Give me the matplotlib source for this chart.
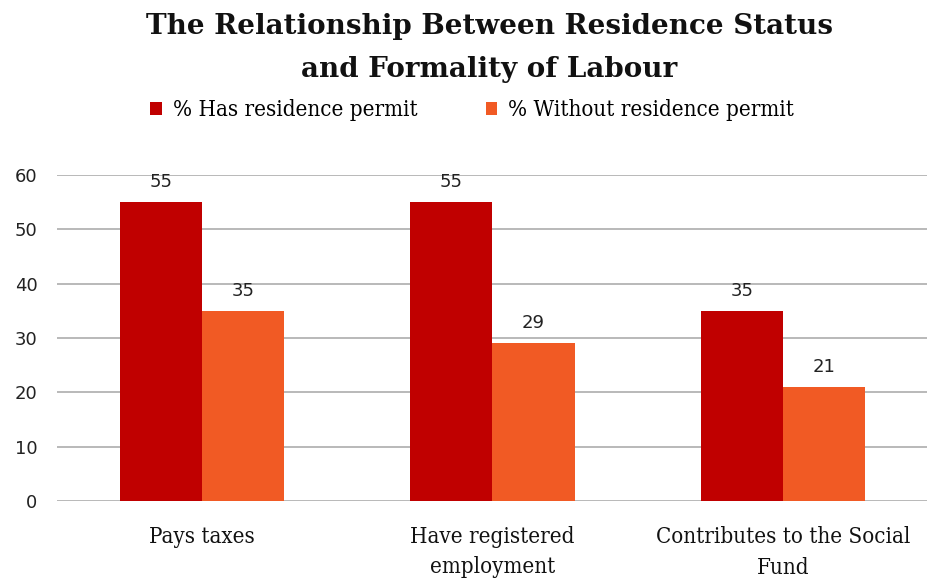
import matplotlib
matplotlib.use("Agg")
import matplotlib.pyplot as plt
import numpy as np

categories = ["Pays taxes", "Have registered\nemployment", "Contributes to the Social\nFund"]
series_names = ["% Has residence permit", "% Without residence permit"]
has_permit = [55, 55, 35]
without_permit = [35, 29, 21]
y_ticks = [0, 10, 20, 30, 40, 50, 60]

colors = ["#C00000", "#F15A24"]
serif = "DejaVu Serif"

fig = plt.figure(figsize=(9.28, 5.81), dpi=100)
ax = fig.add_axes([57 / 928, 1 - 501 / 581, 1 - 57 / 928, (501 - 175) / 581])

x = np.arange(len(categories))
w = 0.283
bars1 = ax.bar(x - w / 2, has_permit, w, color=colors[0], label=series_names[0], zorder=3)
bars2 = ax.bar(x + w / 2, without_permit, w, color=colors[1], label=series_names[1], zorder=3)

for bars, vals in ((bars1, has_permit), (bars2, without_permit)):
    for b, v in zip(bars, vals):
        ax.annotate(f"{v}", (b.get_x() + b.get_width() / 2, v), xytext=(0, 8),
                    textcoords="offset points", ha="center", va="bottom",
                    fontsize=13, color="#222222", family="DejaVu Sans")

ax.set_xlim(-0.5, 2.5)
ax.set_ylim(0, 60)
ax.set_yticks(y_ticks)
ax.yaxis.grid(True, color="#a6a6a6", linewidth=1.1, zorder=0)
ax.set_axisbelow(True)
for s in ax.spines.values():
    s.set_visible(False)
ax.tick_params(axis="both", length=0)
ax.tick_params(axis="y", labelsize=13, pad=14, labelcolor="#222222")
ax.set_xticks(x)
ax.set_xticklabels(categories, fontsize=16, family=serif, fontstretch="condensed",
                   linespacing=1.5, color="#111111")
ax.tick_params(axis="x", pad=18)

fig.text(0.527, 0.978, "The Relationship Between Residence Status\nand Formality of Labour",
         ha="center", va="top", fontsize=20, fontweight="bold", family=serif,
         linespacing=1.75, color="#111111")

fig.legend(handles=[bars1, bars2], labels=series_names, loc="center",
           bbox_to_anchor=(0.509, 0.81), ncol=2, frameon=False,
           handlelength=0.5, handleheight=0.5, handletextpad=0.5, columnspacing=3.1,
           prop={"family": serif, "size": 16, "stretch": "condensed"})

fig.savefig("out.png", dpi=100)
